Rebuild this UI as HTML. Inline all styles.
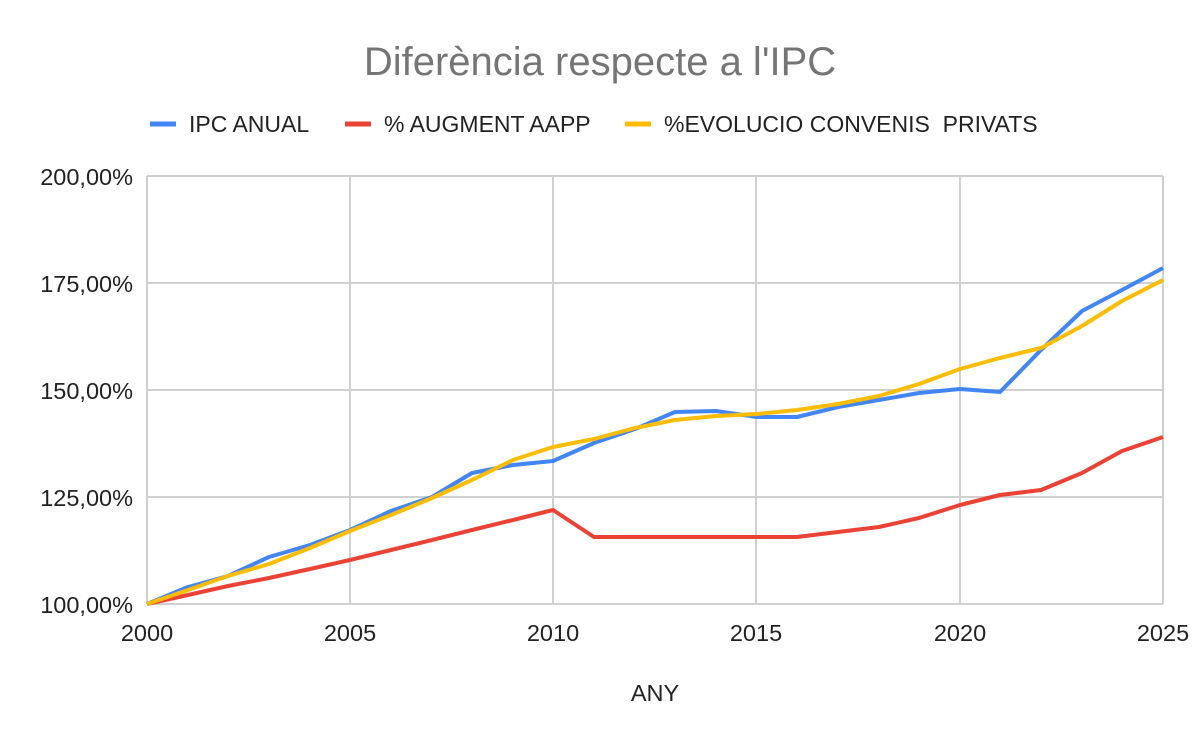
<!DOCTYPE html>
<html><head><meta charset="utf-8"><style>body{margin:0;background:#fff}svg{display:block;font-family:"Liberation Sans",Arial,sans-serif}</style></head><body>
<svg width="1200" height="742" viewBox="0 0 1200 742">
<text x="600" y="75" text-anchor="middle" font-size="40" fill="#757575">Diferència respecte a l'IPC</text>
<g font-size="23" fill="#222">
<line x1="150" y1="124" x2="176" y2="124" stroke="#4285f4" stroke-width="5"/><text x="189" y="132">IPC ANUAL</text>
<line x1="345" y1="124" x2="371" y2="124" stroke="#ea4335" stroke-width="5"/><text x="384" y="132">% AUGMENT AAPP</text>
<line x1="625" y1="124" x2="651" y2="124" stroke="#fbbc04" stroke-width="5"/><text x="664" y="132">%EVOLUCIO CONVENIS&#160; PRIVATS</text>
</g>
<g stroke="#d0d0d0" stroke-width="2">
<line x1="147" y1="176" x2="1163" y2="176"/><line x1="147" y1="283" x2="1163" y2="283"/><line x1="147" y1="390" x2="1163" y2="390"/><line x1="147" y1="497" x2="1163" y2="497"/><line x1="147" y1="604" x2="1163" y2="604"/>
<line x1="147" y1="176" x2="147" y2="604"/><line x1="350" y1="176" x2="350" y2="604"/><line x1="553" y1="176" x2="553" y2="604"/><line x1="756" y1="176" x2="756" y2="604"/><line x1="960" y1="176" x2="960" y2="604"/><line x1="1163" y1="176" x2="1163" y2="604"/>
</g>
<g font-size="23.5" fill="#222" text-anchor="end">
<text x="133" y="185">200,00%</text><text x="133" y="292">175,00%</text><text x="133" y="399">150,00%</text><text x="133" y="506">125,00%</text><text x="133" y="613">100,00%</text>
</g>
<g font-size="23.5" fill="#222" text-anchor="middle">
<text x="147" y="641">2000</text><text x="350" y="641">2005</text><text x="553" y="641">2010</text><text x="756" y="641">2015</text><text x="960" y="641">2020</text><text x="1163" y="641">2025</text>
<text x="655" y="701">ANY</text>
</g>
<g fill="none" stroke-width="4" stroke-linejoin="round">
<polyline stroke="#ea4335" points="147,604 188,595 228,586 269,578 310,569 350,560 391,550 432,540 472,530 513,520 553,510 594,537 635,537 675,537 716,537 757,537 797,537 838,532 879,527 919,518 960,505 1000,495 1041,490 1082,473 1122,451 1163,437"/>
<polyline stroke="#4285f4" points="147,604 188,587 228,576 269,557 310,545 350,530 391,511 432,497 472,473 513,465 553,461 594,443 635,429 675,412 716,411 757,417 797,417 838,407 879,400 919,393 960,389 1000,392 1041,350 1082,311 1122,290 1163,268"/>
<polyline stroke="#fbbc04" points="147,604 188,590 228,576 269,564 310,548 350,531 391,515 432,498 472,480 513,460 553,447 594,439 635,428 675,420 716,416 757,414 797,410 838,404 879,396 919,384 960,369 1000,358 1041,348 1082,326 1122,301 1163,280"/>
</g>
</svg>
</body></html>
